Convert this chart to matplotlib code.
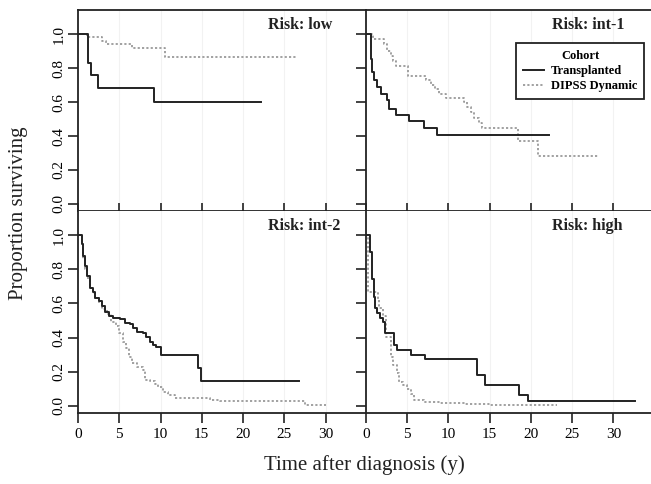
import matplotlib
matplotlib.use("Agg")
import matplotlib.pyplot as plt

plt.rcParams["font.family"] = ["Liberation Serif", "DejaVu Serif"]

# Kaplan-Meier step data (time in years, proportion surviving)
low_tx_t = [0, 1.25, 1.6, 2.4, 9.2, 22.2]
low_tx_s = [1.0, 0.833, 0.757, 0.686, 0.602, 0.602]
low_dd_t = [0, 1.1, 2.9, 3.4, 6.5, 10.6, 26.6]
low_dd_s = [1.0, 0.982, 0.963, 0.945, 0.92, 0.866, 0.866]

int1_tx_t = [0, 0.57, 0.73, 1.0, 1.33, 1.78, 2.5, 2.8, 3.6, 5.25, 7.0, 8.57, 22.2]
int1_tx_s = [1.0, 0.857, 0.78, 0.733, 0.69, 0.645, 0.612, 0.557, 0.524, 0.488,
             0.445, 0.406, 0.406]
int1_dd_t = [0, 0.8, 2.2, 2.6, 3.0, 3.3, 3.6, 5.05, 7.3, 7.9, 8.4, 8.9, 9.7,
             11.9, 12.3, 12.7, 13.1, 13.7, 14.1, 18.4, 20.8, 28.3]
int1_dd_s = [1.0, 0.971, 0.94, 0.90, 0.87, 0.84, 0.81, 0.753, 0.73, 0.70, 0.68,
             0.65, 0.626, 0.60, 0.57, 0.54, 0.504, 0.475, 0.449, 0.371, 0.28, 0.28]

int2_tx_t = [0, 0.45, 0.65, 0.85, 1.1, 1.45, 1.8, 2.06, 2.5, 2.9, 3.3, 3.7, 4.3,
             5.1, 5.7, 6.3, 6.7, 7.1, 7.9, 8.3, 8.7, 9.1, 9.5, 10.1, 14.6, 14.9, 26.8]
int2_tx_s = [1.0, 0.95, 0.876, 0.818, 0.76, 0.69, 0.67, 0.632, 0.612, 0.583,
             0.547, 0.528, 0.514, 0.508, 0.484, 0.478, 0.455, 0.435, 0.425,
             0.406, 0.377, 0.357, 0.343, 0.298, 0.224, 0.147, 0.147]
int2_dd_t = [0, 0.45, 0.65, 0.85, 1.1, 1.45, 1.8, 2.06, 2.5, 2.9, 3.5, 4.0, 4.6,
             5.0, 5.4, 5.8, 6.2, 6.6, 7.1, 7.9, 8.1, 8.7, 9.3, 9.7, 10.3, 10.9,
             11.7, 14.8, 16.0, 17.2, 27.1, 27.5, 30.0]
int2_dd_s = [1.0, 0.95, 0.86, 0.80, 0.75, 0.69, 0.66, 0.63, 0.60, 0.57, 0.54,
             0.494, 0.465, 0.425, 0.377, 0.337, 0.288, 0.249, 0.229, 0.21, 0.151,
             0.147, 0.127, 0.112, 0.082, 0.063, 0.047, 0.043, 0.033, 0.029,
             0.029, 0.004, 0.004]

high_tx_t = [0, 0.48, 0.73, 0.93, 1.05, 1.3, 1.7, 2.1, 2.3, 3.4, 3.7, 5.4, 7.1,
             13.4, 14.4, 18.6, 19.6, 32.6]
high_tx_s = [1.0, 0.9, 0.744, 0.64, 0.573, 0.543, 0.514, 0.49, 0.426, 0.357,
             0.327, 0.298, 0.273, 0.181, 0.122, 0.063, 0.029, 0.029]
high_dd_t = [0, 0.24, 0.3, 1.5, 1.6, 2.1, 2.4, 3.0, 3.3, 3.7, 4.0, 4.5, 5.0, 5.4,
             5.8, 7.0, 9.0, 12.0, 15.0, 23.1]
high_dd_s = [1.0, 0.9, 0.67, 0.62, 0.573, 0.527, 0.406, 0.288, 0.24, 0.19, 0.141,
             0.125, 0.10, 0.07, 0.037, 0.025, 0.015, 0.008, 0.002, 0.002]

panels = [
    ("Risk: low", low_tx_t, low_tx_s, low_dd_t, low_dd_s),
    ("Risk: int-1", int1_tx_t, int1_tx_s, int1_dd_t, int1_dd_s),
    ("Risk: int-2", int2_tx_t, int2_tx_s, int2_dd_t, int2_dd_s),
    ("Risk: high", high_tx_t, high_tx_s, high_dd_t, high_dd_s),
]
x_ticks = [0, 5, 10, 15, 20, 25, 30]
y_ticks = [0.0, 0.2, 0.4, 0.6, 0.8, 1.0]

fig = plt.figure(figsize=(6.51, 4.84), dpi=100)

# panel rectangles in figure fraction: left, bottom, width, height
rects = [
    (0.1198, 0.564, 0.4424, 0.415),
    (0.5622, 0.564, 0.4378, 0.415),
    (0.1198, 0.1467, 0.4424, 0.4174),
    (0.5622, 0.1467, 0.4378, 0.4174),
]
xmax = [34.9, 34.55, 34.9, 34.55]
title_x = [23.0, 22.5, 23.0, 22.5]

axes = []
for i, (name, tt, ts, dt, ds) in enumerate(panels):
    ax = fig.add_axes(rects[i])
    axes.append(ax)
    top = i < 2
    left = i % 2 == 0

    for xv in x_ticks[1:]:
        ax.axvline(xv, color="#f2f2f2", lw=0.8, zorder=0)

    ax.step(dt, ds, where="post", color="#9a9a9a", lw=1.3,
            linestyle=(0, (1.2, 1.2)), label="DIPSS Dynamic")
    ax.step(tt, ts, where="post", color="#222222", lw=1.4, label="Transplanted")

    ax.set_xlim(0, xmax[i])
    ax.set_ylim(-0.042, 1.142)

    ax.spines["right"].set_visible(False)
    ax.spines["top"].set_visible(top)
    for sp in ax.spines.values():
        sp.set_linewidth(1.3)
        sp.set_color("#222222")

    ax.set_xticks(x_ticks)
    ax.set_yticks(y_ticks)
    if top:
        ax.tick_params(axis="x", direction="in", length=6, width=1.2,
                       labelbottom=False, color="#222222")
    else:
        ax.tick_params(axis="x", direction="out", length=7, width=1.2,
                       labelsize=11, pad=4, color="#222222")
    ax.tick_params(axis="y", direction="out", length=7, width=1.2,
                   labelleft=left, labelsize=11, pad=2, color="#222222")
    if left:
        ax.set_yticklabels([f"{v:.1f}" for v in y_ticks], rotation=90,
                           va="center")

    ax.text(title_x[i], 0.965, name, transform=ax.get_xaxis_transform(),
            ha="left", va="top", fontsize=11.5, fontweight="bold",
            color="#222222")

handles, labels = axes[1].get_legend_handles_labels()
leg = axes[1].legend(handles[::-1], labels[::-1], title="Cohort",
                     loc="upper right", bbox_to_anchor=(0.975, 0.837),
                     borderaxespad=0, fancybox=False, edgecolor="#222222",
                     framealpha=1, prop={"weight": "bold", "size": 9},
                     title_fontproperties={"weight": "bold", "size": 9},
                     handlelength=1.7, handletextpad=0.5, borderpad=0.55,
                     labelspacing=0.25)
leg.get_frame().set_linewidth(1.3)

fig.text(0.028, 0.56, "Proportion surviving", rotation=90, ha="center",
         va="center", fontsize=15, color="#222222")
fig.text(0.56, 0.04, "Time after diagnosis (y)", ha="center", va="center",
         fontsize=15, color="#222222")

fig.savefig("out.png", dpi=100)
